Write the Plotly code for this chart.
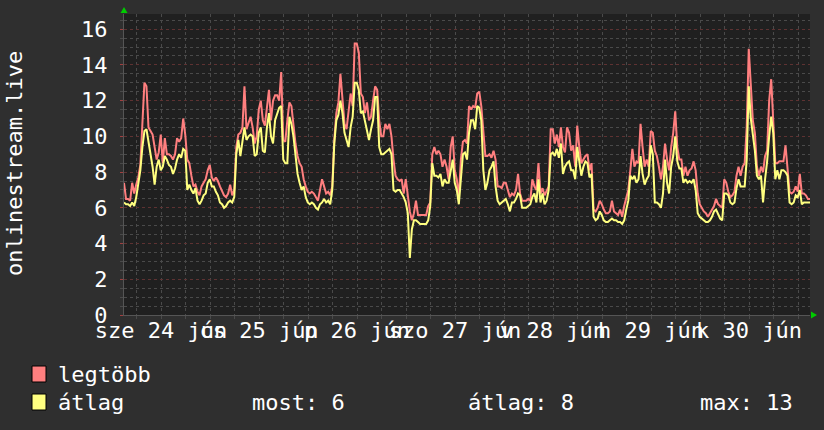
import pandas as pd
import plotly.graph_objects as go

# ---- data (30-minute samples, 2020-06-24 02:56 .. 2020-07-01 02:56) ----
start_time = "2020-06-24 02:56"
end_time = "2020-07-01 02:56"

legtobb = [
    7.4, 6.5, 6.5, 6.4, 7.4, 6.8, 7.3, 7.7, 8.4, 10.5,
    13.0, 12.8, 10.5, 10.3, 10.1, 9.4, 8.7, 9.1, 10.1, 8.5,
    9.9, 9.0, 9.0, 8.9, 8.7, 9.0, 9.9, 9.7, 9.9, 11.0,
    10.1, 8.7, 8.5, 7.8, 7.2, 7.3, 6.9, 6.7, 7.2, 7.4,
    7.6, 8.1, 8.4, 7.7, 7.5, 7.7, 7.5, 7.2, 6.9, 6.7,
    6.6, 6.8, 7.3, 6.7, 7.0, 9.4, 10.1,
    10.2, 10.5, 12.8, 10.4, 10.7, 11.1, 10.5, 9.6, 10.0, 11.5,
    12.0, 10.9, 10.6, 11.7, 12.6, 10.9, 12.0, 12.3, 12.3, 12.0,
    13.6, 9.8, 9.7, 10.9, 11.9, 11.7, 10.5, 9.6, 8.9, 8.5,
    8.3, 7.6, 7.2, 6.9, 6.8, 6.9, 6.8, 6.6, 6.4, 7.0,
    7.6, 7.2, 6.8, 6.9, 6.7, 7.2, 9.8, 11.3, 11.9, 13.5,
    12.2, 10.7, 10.4, 11.5, 12.4, 11.7, 15.2,
    15.2, 14.7, 12.4, 12.2, 11.3, 11.9, 10.9, 11.1, 12.0, 12.8,
    12.6, 10.9, 10.0, 10.0, 10.7, 10.4, 10.7, 10.0, 8.7, 7.8,
    7.6, 7.5, 7.6, 6.8, 7.6, 6.8, 5.8, 5.3, 5.7, 6.4,
    5.6, 5.6, 5.6, 5.6, 5.6, 6.1, 6.3, 9.0, 9.4, 9.0,
    9.2, 9.0, 8.3, 8.7, 8.3, 7.6, 9.4, 10.0, 8.1, 7.6,
    6.6, 8.7, 9.7, 9.8, 9.6, 11.7, 11.5,
    11.7, 11.6, 12.4, 12.5, 11.7, 10.2, 8.9, 8.9, 9.0, 8.8,
    9.2, 8.7, 7.2, 7.2, 7.1, 7.4, 7.4, 7.0, 6.6, 6.8,
    6.7, 7.0, 7.9, 6.8, 6.4, 6.4, 6.4, 6.5, 6.4, 7.6,
    7.2, 7.0, 8.5, 6.8, 7.1, 6.7, 7.0, 7.2, 10.4, 10.4,
    9.6, 10.1, 9.4, 10.5, 9.4, 9.1, 10.5, 10.2, 9.2, 9.5,
    8.3, 10.6, 9.4, 8.5, 8.7, 8.9, 9.0, 8.1,
    8.5, 5.9, 5.8, 6.0, 6.4, 6.2, 5.9, 5.7, 5.7, 5.8,
    6.4, 5.8, 5.7, 5.6, 5.9, 5.5, 6.1, 6.5, 7.0, 8.1,
    9.3, 8.3, 8.6, 8.5, 10.7, 9.4, 8.3, 8.7, 8.3, 10.3,
    10.2, 9.2, 8.9, 8.3, 7.6, 8.3, 9.6, 8.7, 8.1, 9.4,
    10.2, 11.4, 9.4, 8.7, 8.7, 7.8, 8.3, 7.8, 8.1, 8.2,
    8.6, 8.1, 6.8, 6.2, 6.0, 5.8, 5.7,
    5.5, 5.7, 5.9, 6.1, 6.5, 6.2, 6.1, 6.0, 7.6, 7.4,
    6.9, 6.6, 6.7, 6.9, 7.8, 8.3, 7.8, 8.3, 8.5, 10.5,
    14.9, 12.8, 10.9, 10.2, 8.3, 7.8, 8.3, 8.0, 8.9, 9.2,
    12.0, 13.2, 10.4, 8.5, 8.5, 8.6, 8.6, 8.6, 9.5, 8.3,
    6.9, 6.8, 6.9, 7.2, 6.9, 7.9, 6.8, 6.8, 6.7, 6.5, 6.5,
]

atlag = [
    6.3, 6.2, 6.2, 6.1, 6.3, 6.1, 6.6, 7.4, 8.1, 9.4,
    10.3, 10.4, 9.7, 9.0, 8.3, 7.3, 8.3, 8.7, 8.1, 8.3,
    8.9, 8.7, 8.4, 8.3, 7.9, 8.2, 8.7, 9.0, 8.8, 9.3,
    9.2, 7.0, 7.3, 7.0, 6.8, 7.1, 6.4, 6.2, 6.4, 6.7,
    6.8, 7.4, 7.6, 7.2, 7.2, 6.9, 6.7, 6.3, 6.2, 6.0,
    6.1, 6.3, 6.4, 6.3, 6.6, 9.0, 9.8,
    8.9, 9.6, 10.5, 9.8, 10.0, 10.1, 10.0, 8.9, 9.0, 10.2,
    10.5, 9.2, 9.1, 10.5, 11.3, 10.0, 9.6, 10.9, 11.3, 11.6,
    11.7, 8.7, 8.5, 8.5, 11.1, 10.7, 10.0, 9.0, 7.9, 7.4,
    7.0, 7.2, 6.6, 6.3, 6.2, 6.3, 6.2, 6.0, 5.9, 6.2,
    6.3, 6.5, 6.3, 6.4, 6.2, 7.0, 9.6, 10.9, 11.2, 12.0,
    11.3, 10.2, 9.8, 9.4, 10.5, 11.1, 13.0,
    13.0, 12.6, 11.3, 11.4, 10.9, 10.4, 9.8, 10.4, 10.9, 12.2,
    12.2, 9.4, 9.0, 9.0, 9.1, 9.2, 9.3, 9.0, 7.0, 6.9,
    7.0, 7.0, 6.8, 6.6, 6.3, 5.7, 3.2, 4.8, 5.3, 5.3,
    5.2, 5.1, 5.1, 5.1, 5.1, 5.3, 6.1, 8.5, 7.8, 7.8,
    7.7, 7.9, 7.2, 7.6, 7.4, 7.4, 8.1, 8.7, 7.4, 7.0,
    6.2, 7.8, 9.0, 9.1, 8.7, 10.2, 10.9,
    10.9, 10.4, 11.7, 11.6, 10.9, 8.1, 7.0, 7.4, 8.1, 8.3,
    8.6, 7.2, 6.4, 6.2, 6.3, 6.4, 6.5, 6.2, 5.8, 6.3,
    6.3, 6.5, 6.8, 6.7, 6.0, 6.0, 6.0, 6.1, 6.2, 6.6,
    6.8, 6.3, 7.6, 6.3, 6.8, 6.2, 6.4, 7.0, 9.0, 9.1,
    8.9, 9.3, 8.8, 9.6, 7.9, 8.3, 8.5, 8.6, 8.1, 8.1,
    7.6, 9.4, 8.7, 7.8, 8.3, 8.6, 8.5, 7.7,
    7.9, 5.5, 5.3, 5.4, 5.8, 5.6, 5.3, 5.2, 5.2, 5.3,
    5.4, 5.3, 5.3, 5.2, 5.2, 5.1, 5.3, 5.9, 6.4, 7.8,
    7.6, 7.8, 7.4, 7.6, 8.9, 7.9, 7.3, 7.6, 7.8, 9.5,
    9.0, 6.3, 6.3, 6.2, 6.0, 6.8, 8.7, 7.4, 6.8, 8.3,
    8.9, 10.0, 8.6, 8.2, 8.2, 7.4, 7.6, 7.4, 7.5, 7.4,
    7.6, 7.0, 5.7, 5.5, 5.4, 5.3, 5.2,
    5.2, 5.3, 5.5, 5.8, 5.9, 5.6, 5.4, 5.3, 6.8, 6.8,
    6.7, 6.3, 6.2, 6.3, 7.1, 7.6, 7.2, 7.2, 7.2, 8.7,
    12.8, 11.0, 10.2, 9.2, 7.8, 7.6, 7.8, 6.3, 7.6, 8.6,
    10.0, 11.1, 10.2, 7.6, 8.1, 7.6, 8.1, 8.1, 8.0, 7.8,
    6.3, 6.2, 6.3, 6.7, 6.6, 7.0, 6.2, 6.3, 6.3, 6.3, 6.3,
]

day_label_dates = ["2020-06-24 12:00", "2020-06-25 12:00", "2020-06-26 12:00",
                   "2020-06-27 12:00", "2020-06-28 12:00", "2020-06-29 12:00",
                   "2020-06-30 12:00"]
day_labels = ["sze 24 jún", "cs 25 jún", "p 26 jún", "szo 27 jún",
              "v 28 jún", "h 29 jún", "k 30 jún"]
midnights = ["2020-06-25", "2020-06-26", "2020-06-27", "2020-06-28",
             "2020-06-29", "2020-06-30", "2020-07-01"]
y_ticks = [0, 2, 4, 6, 8, 10, 12, 14, 16]

series_names = ["legtöbb", "átlag"]
stats_labels = ["most: 6", "átlag: 8", "max: 13"]
axis_title = "onlinestream.live"

# ---- styling ----
FONT = "DejaVu Sans Mono"
FS = 22
PAPER = "#2f2f2f"
PLOT = "#202020"
RED = "#ff7f7f"
YEL = "#ffff80"
GRID_MINOR = "#4a4a4a"
GRID_MAJOR = "#5e3232"
TXT = "#ffffff"
W, H = 824, 430
L, R_, T, B = 124, 14, 14, 115
PW, PH = W - L - R_, H - T - B


def px(xpix):
    return (xpix - L) / PW


def py(ypix):
    return (H - B - ypix) / PH


times = pd.date_range(start_time, periods=len(legtobb), freq="30min")

fig = go.Figure()
fig.add_trace(go.Scatter(x=times, y=legtobb, name=series_names[0], mode="lines",
                         line=dict(color=RED, width=2),
                         showlegend=False, hoverinfo="skip"))
fig.add_trace(go.Scatter(x=times, y=atlag, name=series_names[1], mode="lines",
                         line=dict(color=YEL, width=2),
                         showlegend=False, hoverinfo="skip"))

fig.update_layout(
    width=W, height=H,
    margin=dict(l=L, r=R_, t=T, b=B),
    paper_bgcolor=PAPER, plot_bgcolor=PLOT,
    font=dict(family=FONT, size=FS, color=TXT),
    showlegend=False,
    xaxis=dict(
        type="date", range=[start_time, end_time],
        tickmode="array", tickvals=day_label_dates, ticktext=day_labels,
        tickangle=0, showgrid=False, ticks="", zeroline=False,
        showline=True, linecolor="#555555", linewidth=1,
        ticklabelstandoff=-4,
        tickfont=dict(family=FONT, size=FS, color=TXT),
        minor=dict(tickmode="linear", tick0="2020-06-24", dtick=6 * 3600 * 1000,
                   showgrid=True, gridcolor=GRID_MINOR, griddash="dot",
                   gridwidth=1, ticks="outside", ticklen=3, tickcolor=GRID_MINOR),
    ),
    xaxis2=dict(
        type="date", range=[start_time, end_time], overlaying="x", anchor="y",
        side="bottom", tickmode="array", tickvals=midnights,
        showticklabels=False, showgrid=True, gridcolor=GRID_MAJOR,
        griddash="dot", gridwidth=1, ticks="outside", ticklen=3,
        tickcolor="#a04040", zeroline=False, showline=False,
    ),
    yaxis=dict(
        range=[0, 16.85], tickmode="array", tickvals=y_ticks,
        showgrid=True, gridcolor=GRID_MAJOR, griddash="dot", gridwidth=1,
        zeroline=False, showline=True, linecolor="#555555", linewidth=1,
        ticks="outside", ticklen=3, tickcolor="#a04040",
        ticklabelstandoff=8,
        tickfont=dict(family=FONT, size=FS, color=TXT),
        minor=dict(tickmode="linear", tick0=0, dtick=0.5, showgrid=True,
                   gridcolor=GRID_MINOR, griddash="dot", gridwidth=1,
                   ticks="outside", ticklen=3, tickcolor=GRID_MINOR),
    ),
)

# y-axis title
fig.add_annotation(text=axis_title, textangle=-90, xref="paper", yref="paper",
                   x=px(14), y=py(164), xanchor="center", yanchor="middle",
                   showarrow=False,
                   font=dict(family=FONT, size=FS, color=TXT))

# legend swatches + labels
swatch_colors = [RED, YEL]
row_y = [374, 402]
for name, col, yy in zip(series_names, swatch_colors, row_y):
    fig.add_shape(type="rect", xref="paper", yref="paper",
                  x0=px(32), x1=px(46), y0=py(yy - 8), y1=py(yy + 8),
                  fillcolor=col, line=dict(color="#000000", width=1))
    fig.add_annotation(text=name, xref="paper", yref="paper", x=px(56), y=py(yy),
                       xanchor="left", yanchor="middle", showarrow=False,
                       font=dict(family=FONT, size=FS, color=TXT))

for txt, xx in zip(stats_labels, [250, 466, 698]):
    fig.add_annotation(text=txt, xref="paper", yref="paper", x=px(xx), y=py(402),
                       xanchor="left", yanchor="middle", showarrow=False,
                       font=dict(family=FONT, size=FS, color=TXT))

# green axis arrows
fig.add_shape(type="path", xref="paper", yref="paper",
              path=f"M {px(120.5)},{py(13)} L {px(127.5)},{py(13)} L {px(124)},{py(7)} Z",
              fillcolor="#00cc00", line=dict(color="#00cc00", width=0))
fig.add_shape(type="path", xref="paper", yref="paper",
              path=f"M {px(811)},{py(311.5)} L {px(811)},{py(318.5)} L {px(817)},{py(315)} Z",
              fillcolor="#00cc00", line=dict(color="#00cc00", width=0))

fig.write_html("out.html")
